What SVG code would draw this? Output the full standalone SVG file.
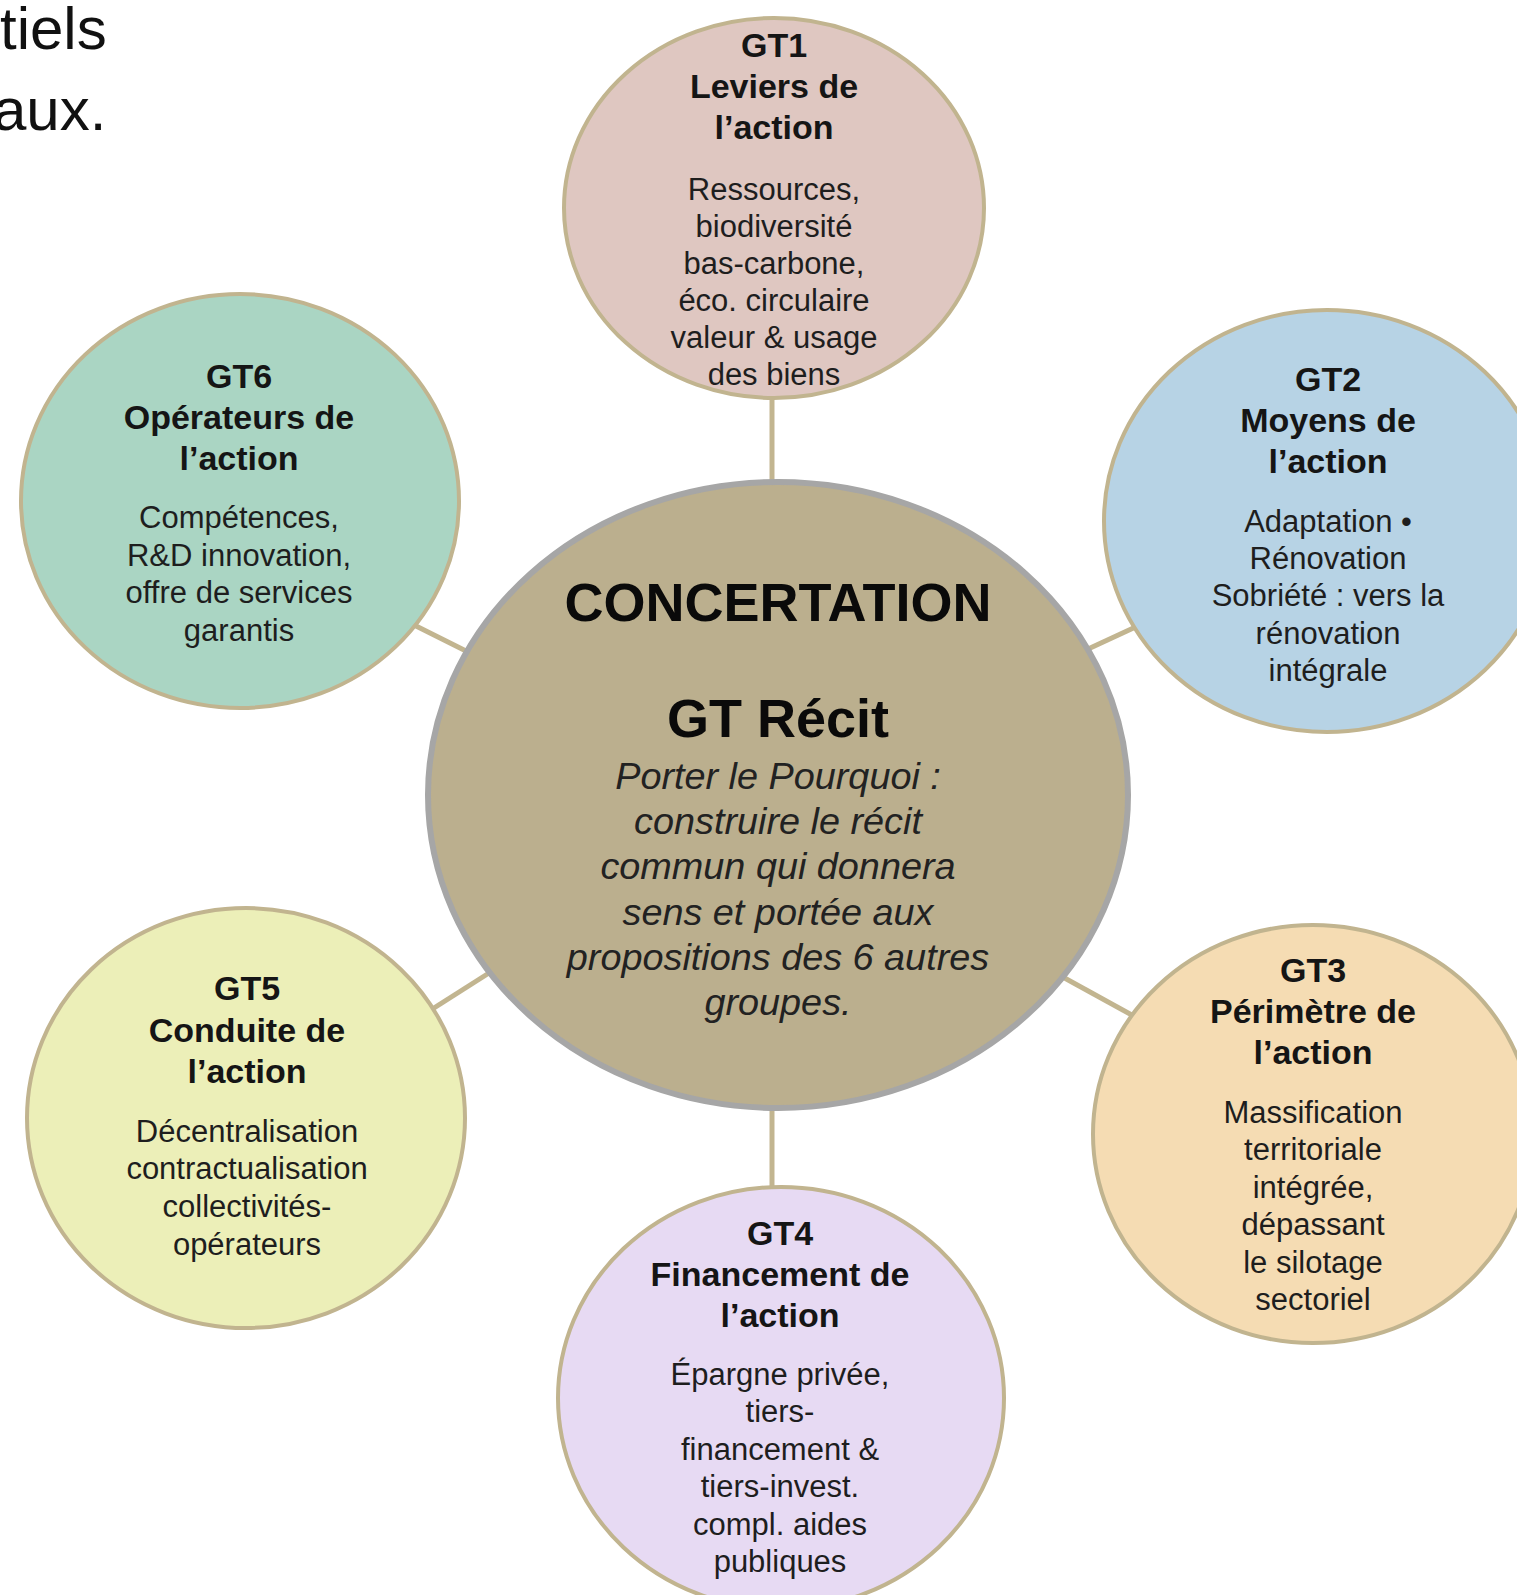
<svg xmlns="http://www.w3.org/2000/svg" width="1517" height="1595" viewBox="0 0 1517 1595">
<style>
text{font-family:"Liberation Sans",Arial,sans-serif;text-anchor:middle}
.frag{font-size:60px;fill:#111;text-anchor:start}
.t{font-size:34px;font-weight:bold;fill:#151515}
.b{font-size:31px;fill:#1e1e1e}
.node{stroke:#c1b48f;stroke-width:4}
.conn{stroke:#c2b590;stroke-width:5;fill:none}
.big{font-size:54px;font-weight:bold;fill:#0a0a0a}
.it{font-size:37.8px;font-style:italic;fill:#222}
</style>
<rect width="1517" height="1595" fill="#ffffff"/>
<text class="frag" x="0" y="49">tiels</text>
<text class="frag" x="-7" y="130">aux.</text>
<g id="connectors">
<line class="conn" x1="772" y1="395" x2="772" y2="486"/>
<line class="conn" x1="772" y1="1104" x2="772" y2="1193"/>
<line class="conn" x1="400" y1="618" x2="490" y2="663"/>
<line class="conn" x1="1060" y1="662" x2="1155" y2="618"/>
<line class="conn" x1="415" y1="1020" x2="500" y2="966"/>
<line class="conn" x1="1050" y1="970" x2="1150" y2="1025"/>
</g>
<g id="center">
<ellipse cx="778" cy="795" rx="350" ry="313" fill="#bbaf8e" stroke="#a6a6a6" stroke-width="6"/>
<text class="big" x="778" y="621">CONCERTATION</text>
<text class="big" x="778" y="737">GT Récit</text>
<text class="it" x="778" y="789">Porter le Pourquoi :</text>
<text class="it" x="778" y="834">construire le récit</text>
<text class="it" x="778" y="879">commun qui donnera</text>
<text class="it" x="778" y="925">sens et portée aux</text>
<text class="it" x="778" y="970">propositions des 6 autres</text>
<text class="it" x="778" y="1015">groupes.</text>
</g>
<g id="gt1">
<ellipse class="node" cx="774" cy="208" rx="210" ry="190" fill="#dfc7c1"/>
<text class="t" x="774" y="57">GT1</text>
<text class="t" x="774" y="98">Leviers de</text>
<text class="t" x="774" y="139">l’action</text>
<text class="b" x="774" y="200">Ressources,</text>
<text class="b" x="774" y="237">biodiversité</text>
<text class="b" x="774" y="274">bas-carbone,</text>
<text class="b" x="774" y="311">éco. circulaire</text>
<text class="b" x="774" y="348">valeur &amp; usage</text>
<text class="b" x="774" y="385">des biens</text>
</g>
<g id="gt2">
<ellipse class="node" cx="1327" cy="521" rx="223" ry="211" fill="#b7d3e5"/>
<text class="t" x="1328" y="391">GT2</text>
<text class="t" x="1328" y="432">Moyens de</text>
<text class="t" x="1328" y="473">l’action</text>
<text class="b" x="1328" y="532">Adaptation •</text>
<text class="b" x="1328" y="569">Rénovation</text>
<text class="b" x="1328" y="606">Sobriété : vers la</text>
<text class="b" x="1328" y="644">rénovation</text>
<text class="b" x="1328" y="681">intégrale</text>
</g>
<g id="gt3">
<ellipse class="node" cx="1313" cy="1134" rx="220" ry="209" fill="#f5dcb3"/>
<text class="t" x="1313" y="982">GT3</text>
<text class="t" x="1313" y="1023">Périmètre de</text>
<text class="t" x="1313" y="1064">l’action</text>
<text class="b" x="1313" y="1123">Massification</text>
<text class="b" x="1313" y="1160">territoriale</text>
<text class="b" x="1313" y="1198">intégrée,</text>
<text class="b" x="1313" y="1235">dépassant</text>
<text class="b" x="1313" y="1273">le silotage</text>
<text class="b" x="1313" y="1310">sectoriel</text>
</g>
<g id="gt4">
<ellipse class="node" cx="781" cy="1398" rx="223" ry="211" fill="#e7daf3"/>
<text class="t" x="780" y="1245">GT4</text>
<text class="t" x="780" y="1286">Financement de</text>
<text class="t" x="780" y="1327">l’action</text>
<text class="b" x="780" y="1385">Épargne privée,</text>
<text class="b" x="780" y="1422">tiers-</text>
<text class="b" x="780" y="1460">financement &amp;</text>
<text class="b" x="780" y="1497">tiers-invest.</text>
<text class="b" x="780" y="1535">compl. aides</text>
<text class="b" x="780" y="1572">publiques</text>
</g>
<g id="gt5">
<ellipse class="node" cx="246" cy="1118" rx="219" ry="210" fill="#ecefb8"/>
<text class="t" x="247" y="1000">GT5</text>
<text class="t" x="247" y="1042">Conduite de</text>
<text class="t" x="247" y="1083">l’action</text>
<text class="b" x="247" y="1142">Décentralisation</text>
<text class="b" x="247" y="1179">contractualisation</text>
<text class="b" x="247" y="1217">collectivités-</text>
<text class="b" x="247" y="1255">opérateurs</text>
</g>
<g id="gt6">
<ellipse class="node" cx="240" cy="501" rx="219" ry="207" fill="#aad5c3"/>
<text class="t" x="239" y="388">GT6</text>
<text class="t" x="239" y="429">Opérateurs de</text>
<text class="t" x="239" y="470">l’action</text>
<text class="b" x="239" y="528">Compétences,</text>
<text class="b" x="239" y="566">R&amp;D innovation,</text>
<text class="b" x="239" y="603">offre de services</text>
<text class="b" x="239" y="641">garantis</text>
</g>
</svg>
